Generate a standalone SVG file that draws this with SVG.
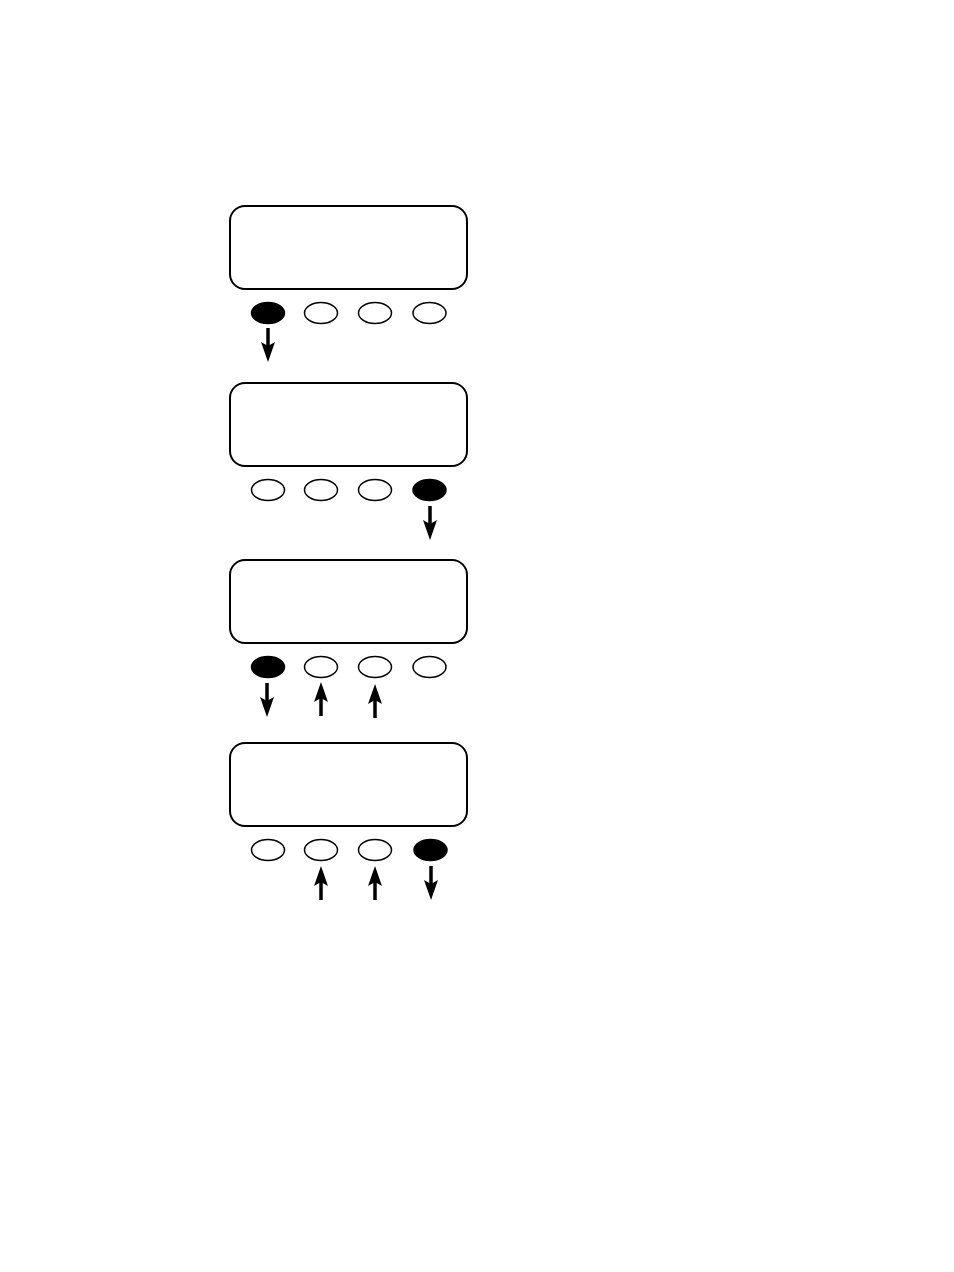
<svg xmlns="http://www.w3.org/2000/svg" width="954" height="1272" viewBox="0 0 954 1272">
<style>
.scr{fill:#fff;stroke:#000;stroke-width:2}
.btn{fill:#fff;stroke:#000;stroke-width:1.5}
.on{fill:#000;stroke:#000;stroke-width:1.5}
.sh{stroke:#000;stroke-width:3.5;fill:none}
.hd{fill:#000;stroke:none}
</style>
<defs>
<g id="dn"><line class="sh" x1="0" y1="0" x2="0" y2="22"/><path class="hd" d="M-7,14 L0,18 L7,14 L0,34 Z"/></g>
<g id="up"><line class="sh" x1="0" y1="34" x2="0" y2="12"/><path class="hd" d="M-7,20 L0,16 L7,20 L0,0 Z"/></g>
</defs>
<rect width="954" height="1272" fill="#fff"/>
<g id="panel1">
<rect class="scr" x="230" y="206" width="237" height="83" rx="15"/>
<ellipse class="on" cx="268" cy="313" rx="16.5" ry="10.5"/>
<ellipse class="btn" cx="321" cy="313" rx="16.5" ry="10.5"/>
<ellipse class="btn" cx="375" cy="313" rx="16.5" ry="10.5"/>
<ellipse class="btn" cx="429.5" cy="313" rx="16.5" ry="10.5"/>
</g>
<g id="panel2">
<rect class="scr" x="230" y="383" width="237" height="83" rx="15"/>
<ellipse class="btn" cx="268" cy="490" rx="16.5" ry="10.5"/>
<ellipse class="btn" cx="321" cy="490" rx="16.5" ry="10.5"/>
<ellipse class="btn" cx="375" cy="490" rx="16.5" ry="10.5"/>
<ellipse class="on" cx="429.5" cy="490" rx="16.5" ry="10.5"/>
</g>
<g id="panel3">
<rect class="scr" x="230" y="560" width="237" height="83" rx="15"/>
<ellipse class="on" cx="268" cy="667" rx="16.5" ry="10.5"/>
<ellipse class="btn" cx="321" cy="667" rx="16.5" ry="10.5"/>
<ellipse class="btn" cx="375" cy="667" rx="16.5" ry="10.5"/>
<ellipse class="btn" cx="429.5" cy="667" rx="16.5" ry="10.5"/>
</g>
<g id="panel4">
<rect class="scr" x="230" y="743" width="237" height="83" rx="15"/>
<ellipse class="btn" cx="268" cy="850" rx="16.5" ry="10.5"/>
<ellipse class="btn" cx="321" cy="850" rx="16.5" ry="10.5"/>
<ellipse class="btn" cx="375" cy="850" rx="16.5" ry="10.5"/>
<ellipse class="on" cx="430.5" cy="850" rx="16.5" ry="10.5"/>
</g>
<g id="connectors">
<use href="#dn" x="268" y="328"/>
<use href="#dn" x="430" y="506"/>
<use href="#dn" x="267" y="683"/>
<use href="#up" x="321" y="682"/>
<use href="#up" x="375" y="684"/>
<use href="#up" x="321" y="866"/>
<use href="#up" x="375" y="866"/>
<use href="#dn" x="431" y="866"/>
</g>
</svg>
